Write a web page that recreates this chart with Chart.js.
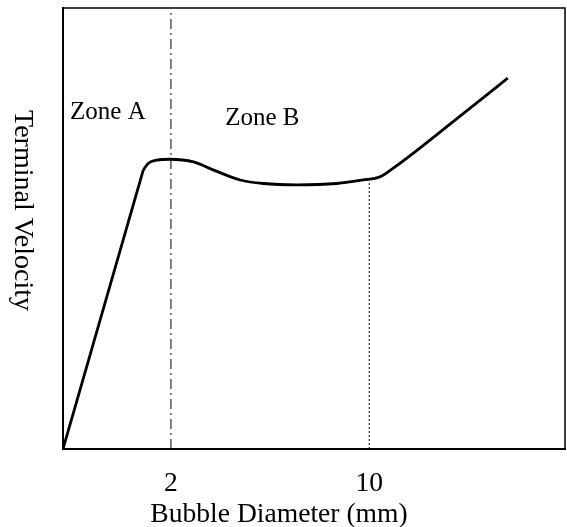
<!DOCTYPE html>
<html>
<head>
<meta charset="utf-8">
<script src="https://cdn.jsdelivr.net/npm/chart.js@4"></script>
<style>
  html, body { margin: 0; padding: 0; background: #fff; }
  #wrap { width: 567px; height: 527px; }
</style>
</head>
<body>
<div id="wrap"><canvas id="velocityChart" width="567" height="527"></canvas></div>
<script>
// schematic curve: x in relative axis units (0-100), y in relative velocity units (0-100)
const curveX = [0, 16.0, 17.0, 18.7, 21.3, 26.0, 29.9, 35.3, 39.9, 46.6, 54.5, 59.8, 63.1, 65.8, 79.1, 88.6];
const curveY = [0, 63.3, 64.8, 65.5, 65.7, 65.1, 63.3, 61.0, 60.2, 59.9, 60.2, 61.0, 61.7, 63.7, 75.5, 84.1];
const kneeIndex = 1; // straight rise up to here, smooth after

// x ticks: position on the axis and the diameter they stand for
const tickPositions = [21.5, 61.0];
const tickLabels = ['2', '10'];

// zone boundary (dash-dot) and zone B end (dotted)
const zoneLineX = [21.5, 21.5];
const zoneLineY = [0, 99];
const endLineX = [61.0, 61.0];
const endLineY = [0, 60.6];

const zoneNames = ['Zone A', 'Zone B'];
const zoneNameX = [1.4, 32.3];
const zoneNameY = [74.8, 73.5];

const serif = '"Liberation Serif", "Times New Roman", serif';

function toPoints(xs, ys) {
  return xs.map((x, i) => ({ x: x, y: ys[i] }));
}

// frame, axis titles and zone labels
const extrasPlugin = {
  id: 'extras',
  afterDraw(chart) {
    const ctx = chart.ctx;
    const area = chart.chartArea;
    const xs = chart.scales.x;
    const ys = chart.scales.y;
    ctx.save();
    ctx.strokeStyle = '#000';
    ctx.lineWidth = 1.5;
    ctx.beginPath();
    ctx.moveTo(area.left, area.top);
    ctx.lineTo(area.right, area.top);
    ctx.lineTo(area.right, area.bottom);
    ctx.stroke();

    ctx.fillStyle = '#000';
    ctx.font = '25px ' + serif;
    ctx.textAlign = 'left';
    ctx.textBaseline = 'alphabetic';
    zoneNames.forEach((name, i) => {
      ctx.fillText(name, xs.getPixelForValue(zoneNameX[i]), ys.getPixelForValue(zoneNameY[i]));
    });

    ctx.font = '27.6px ' + serif;
    ctx.textAlign = 'center';
    ctx.fillText('Bubble Diameter (mm)', 279, 522);

    // y title reads top to bottom
    ctx.translate(22, 210.5);
    ctx.rotate(Math.PI / 2);
    ctx.font = '28px ' + serif;
    ctx.textAlign = 'center';
    ctx.textBaseline = 'middle';
    ctx.fillText('Terminal Velocity', 0, 0);
    ctx.restore();
  }
};

const ctx = document.getElementById('velocityChart').getContext('2d');
new Chart(ctx, {
  type: 'line',
  data: {
    datasets: [
      {
        label: 'Rise',
        data: toPoints(curveX.slice(0, kneeIndex + 1), curveY.slice(0, kneeIndex + 1)),
        borderColor: '#000',
        borderWidth: 2.8,
        pointRadius: 0,
        fill: false,
        tension: 0,
      },
      {
        label: 'Terminal velocity',
        data: toPoints(curveX.slice(kneeIndex), curveY.slice(kneeIndex)),
        borderColor: '#000',
        borderWidth: 2.8,
        pointRadius: 0,
        fill: false,
        cubicInterpolationMode: 'monotone',
      },
      {
        label: 'Zone boundary',
        data: toPoints(zoneLineX, zoneLineY),
        borderColor: '#000',
        borderWidth: 1,
        borderDash: [10, 4, 2, 4],
        pointRadius: 0,
        fill: false,
      },
      {
        label: 'Zone B end',
        data: toPoints(endLineX, endLineY),
        borderColor: '#000',
        borderWidth: 1,
        borderDash: [2, 2],
        pointRadius: 0,
        fill: false,
      },
    ],
  },
  options: {
    responsive: false,
    animation: false,
    layout: { padding: { top: 8, right: 2, left: 0, bottom: 0 } },
    plugins: {
      legend: { display: false },
      tooltip: { enabled: false },
    },
    scales: {
      x: {
        type: 'linear',
        min: 0,
        max: 100,
        grid: { display: false, drawTicks: false },
        border: { display: true, color: '#000', width: 2 },
        afterBuildTicks: (scale) => {
          scale.ticks = tickPositions.map((v) => ({ value: v }));
        },
        afterFit: (scale) => {
          scale.height = 78;
        },
        ticks: {
          autoSkip: false,
          maxRotation: 0,
          padding: 18,
          color: '#000',
          font: { family: serif, size: 27.6 },
          callback: (value) => {
            const i = tickPositions.indexOf(value);
            return i >= 0 ? tickLabels[i] : '';
          },
        },
      },
      y: {
        type: 'linear',
        min: 0,
        max: 100,
        grid: { display: false, drawTicks: false },
        border: { display: true, color: '#000', width: 2 },
        ticks: { display: false },
        afterFit: (scale) => {
          scale.width = 63;
        },
      },
    },
  },
  plugins: [extrasPlugin],
});
</script>
</body>
</html>
